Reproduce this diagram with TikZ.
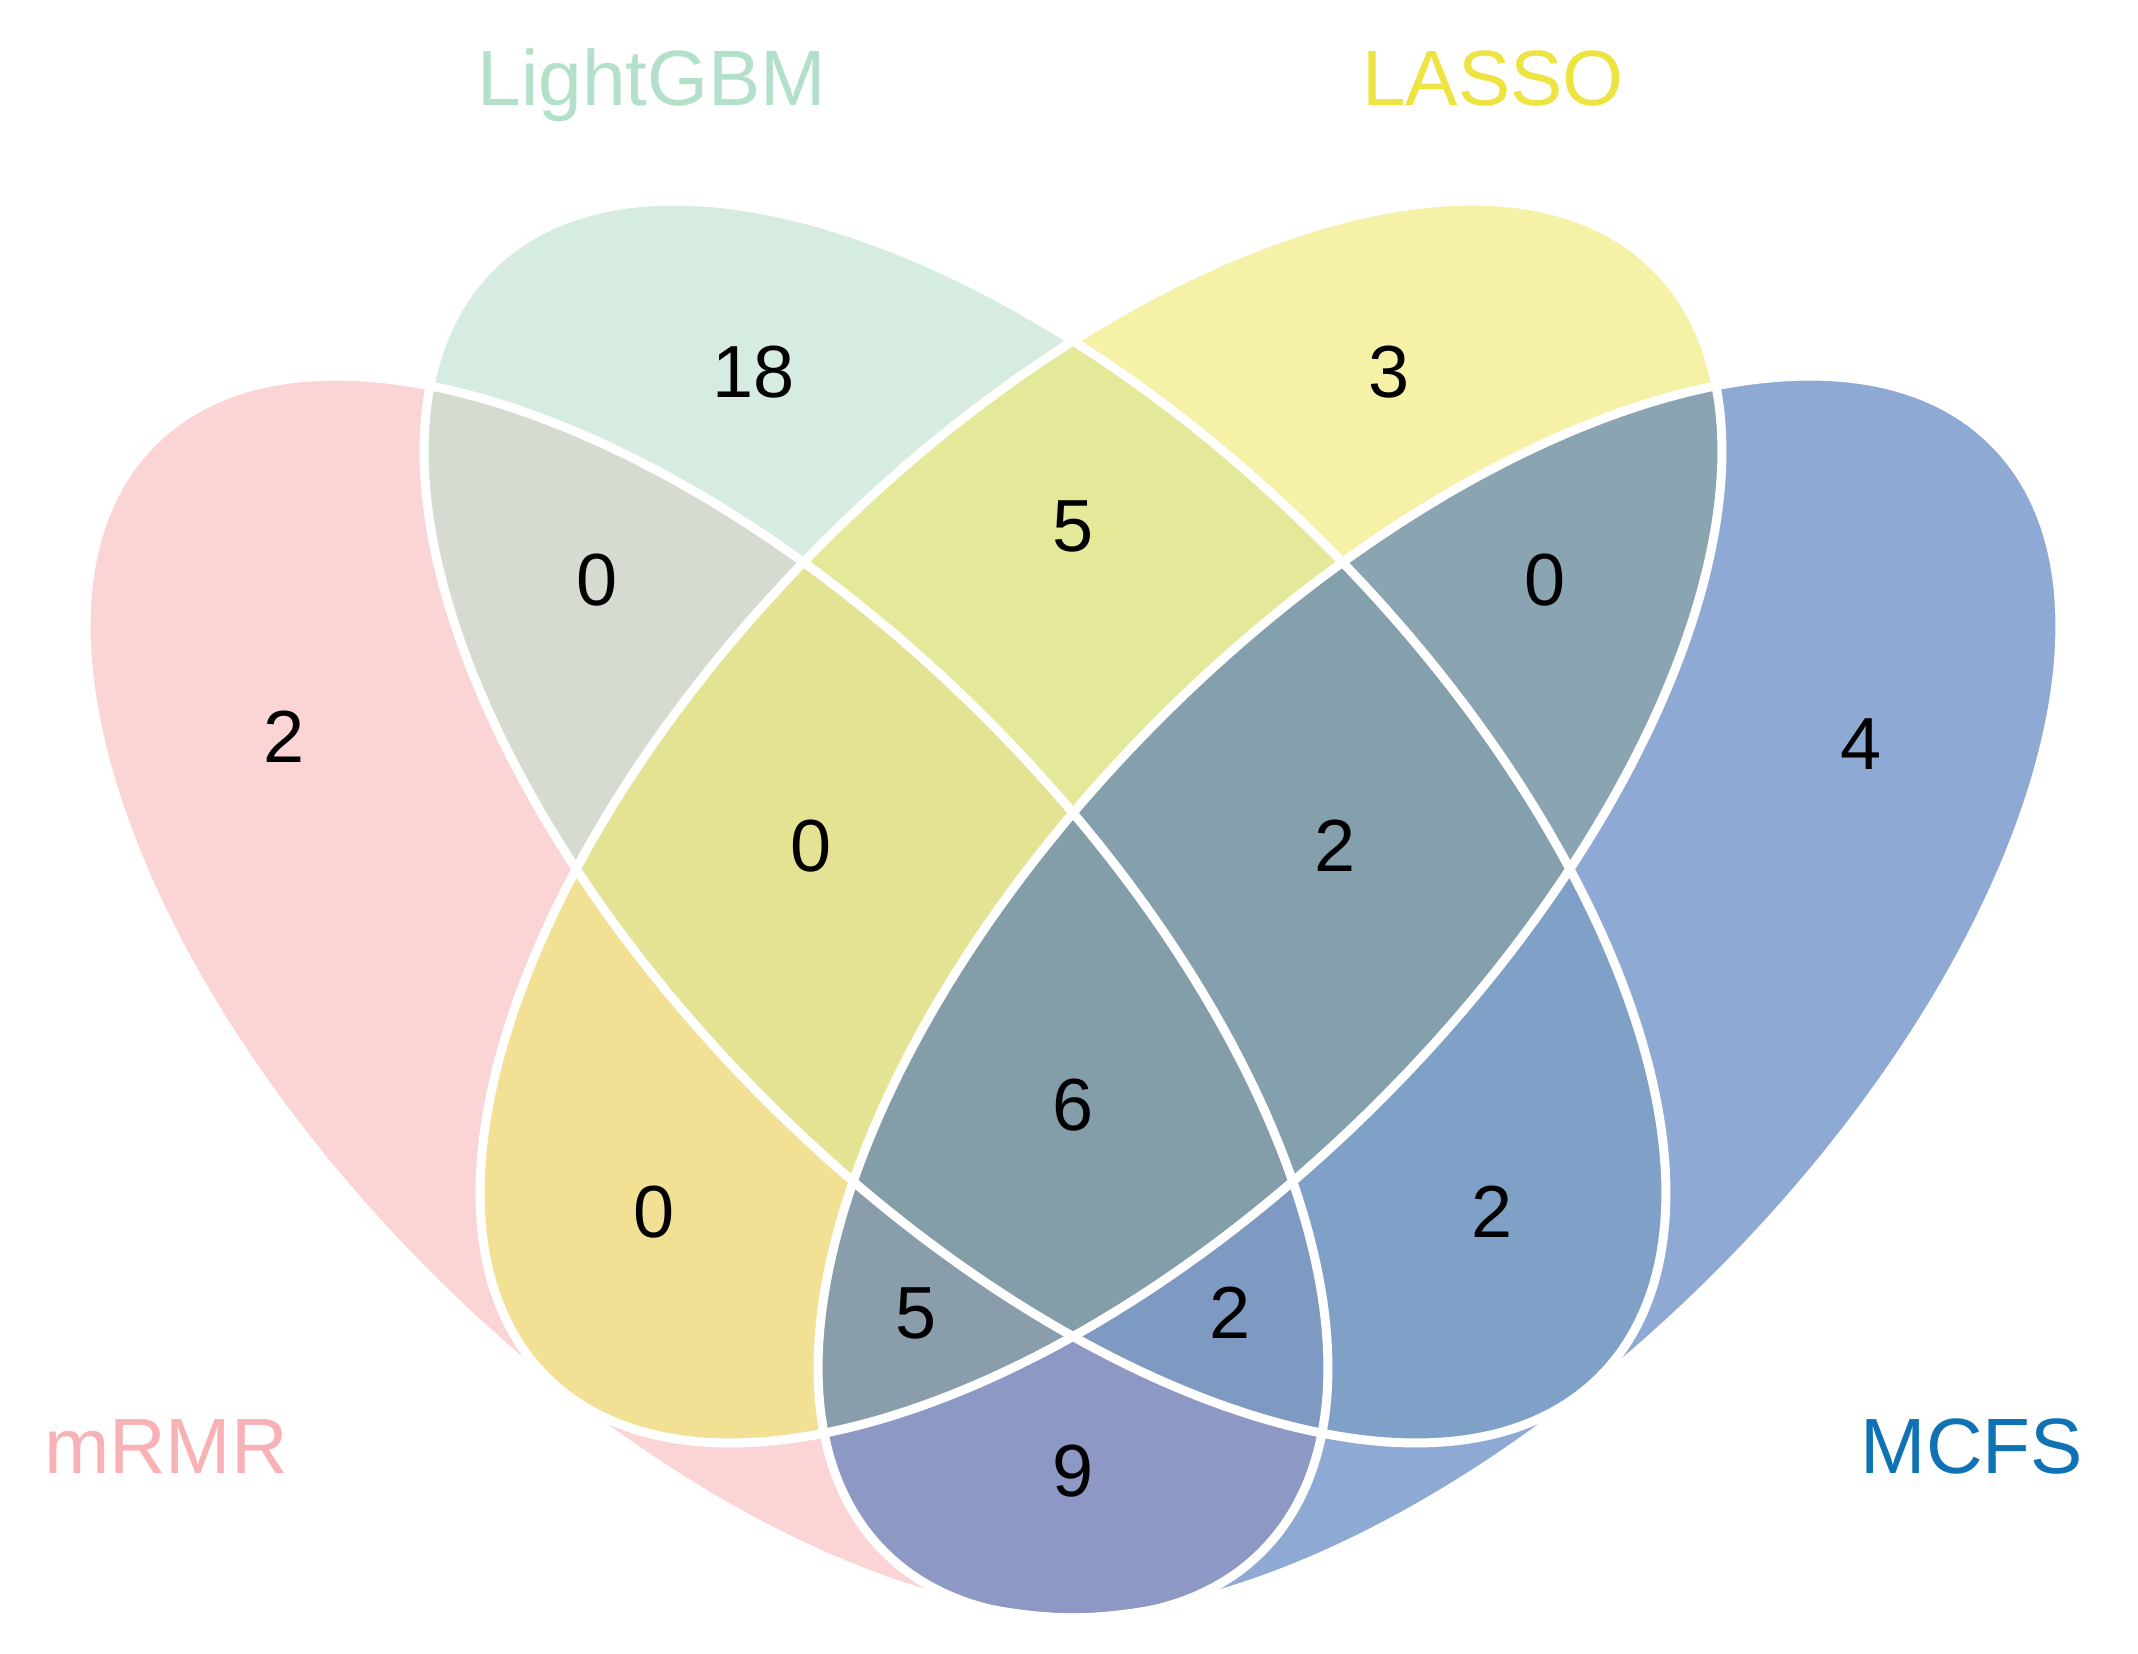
\documentclass[tikz,border=0pt]{standalone}
\usepackage{fontspec}
\setmainfont{Liberation Sans}
\definecolor{cP}{RGB}{248,185,187}
\definecolor{cG}{RGB}{188,223,205}
\definecolor{cY}{RGB}{238,232,107}
\definecolor{cB}{RGB}{68,112,185}
\definecolor{tP}{RGB}{248,177,180}
\definecolor{tG}{RGB}{179,224,201}
\definecolor{tY}{RGB}{237,228,66}
\definecolor{tB}{RGB}{14,114,180}
\begin{document}
\begin{tikzpicture}[x=0.01cm,y=-0.01cm,
  setfill/.style={fill=#1, fill opacity=0.6, draw=none},
  setline/.style={draw=white, line width=0.09cm},
  num/.style={font=\fontsize{21pt}{25pt}\selectfont, anchor=base, inner sep=0pt, text=black},
  cat/.style={font=\fontsize{22.3pt}{26pt}\selectfont, anchor=base, inner sep=0pt, text=#1}]
\useasboundingbox (0,0) rectangle (2138,1653);
% fills
\path[setfill=cP, shift={(707,997)}, rotate=-45] (0,0) ellipse [x radius=7.84cm, y radius=3.94cm];
\path[setfill=cG, shift={(1045,822)}, rotate=-45] (0,0) ellipse [x radius=7.84cm, y radius=3.94cm];
\path[setfill=cY, shift={(1101,822)}, rotate=45] (0,0) ellipse [x radius=7.84cm, y radius=3.94cm];
\path[setfill=cB, shift={(1439,997)}, rotate=45] (0,0) ellipse [x radius=7.84cm, y radius=3.94cm];
% outlines
\path[setline, shift={(707,997)}, rotate=-45] (0,0) ellipse [x radius=7.84cm, y radius=3.94cm];
\path[setline, shift={(1045,822)}, rotate=-45] (0,0) ellipse [x radius=7.84cm, y radius=3.94cm];
\path[setline, shift={(1101,822)}, rotate=45] (0,0) ellipse [x radius=7.84cm, y radius=3.94cm];
\path[setline, shift={(1439,997)}, rotate=45] (0,0) ellipse [x radius=7.84cm, y radius=3.94cm];
% category labels
\node[cat=tP] (lP) at (166,1473) {mRMR};
\node[cat=tG] (lG) at (652,105) {LightGBM};
\node[cat=tY] (lY) at (1493,105) {LASSO};
\node[cat=tB] (lB) at (1972,1473) {MCFS};
% counts
\node[num] (n1) at (284,762) {2};
\node[num] (n2) at (754,397) {18};
\node[num] (n3) at (1389,397) {3};
\node[num] (n4) at (1861,769) {4};
\node[num] (n12) at (597,605) {0};
\node[num] (n23) at (1073,551) {5};
\node[num] (n34) at (1545,605) {0};
\node[num] (n123) at (811,871) {0};
\node[num] (n234) at (1335,871) {2};
\node[num] (n13) at (654,1237) {0};
\node[num] (n1234) at (1073,1130) {6};
\node[num] (n24) at (1492,1237) {2};
\node[num] (n134) at (916,1338) {5};
\node[num] (n124) at (1230,1338) {2};
\node[num] (n14) at (1073,1496) {9};
\end{tikzpicture}
\end{document}
